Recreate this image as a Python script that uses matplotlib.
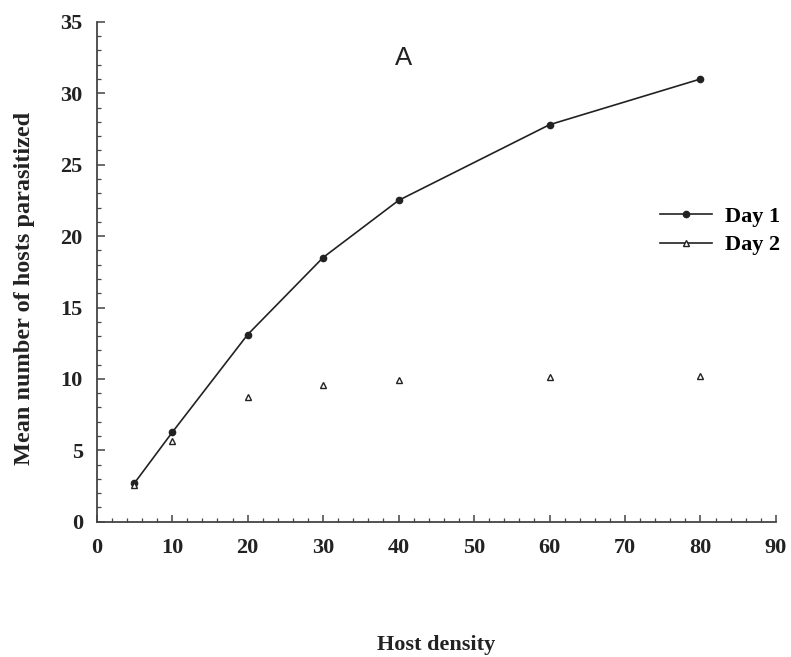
import matplotlib

matplotlib.use("Agg")
import matplotlib.pyplot as plt
from matplotlib.lines import Line2D
from matplotlib.ticker import MultipleLocator

# host density vs mean number parasitized
density = [5, 10, 20, 30, 40, 60, 80]
day1 = [2.7, 6.25, 13.1, 18.5, 22.5, 27.8, 31.0]
day2 = [2.55, 5.65, 8.75, 9.6, 9.9, 10.1, 10.2]
series_labels = ["Day 1", "Day 2"]

INK = "#222222"
plt.rcParams["font.family"] = ["Liberation Serif", "DejaVu Serif"]
plt.rcParams["font.weight"] = "bold"

fig = plt.figure(figsize=(7.91, 6.57), dpi=100)
ax = fig.add_axes([0.1222, 0.2059, 0.8588, 0.7608])

ax.plot(density, day1, color=INK, lw=1.2, marker="o", markersize=4.5,
        markerfacecolor=INK, markeredgecolor=INK, label=series_labels[0])
ax.plot(density, day2, color=INK, lw=0, marker="^", markersize=5,
        markerfacecolor="white", markeredgecolor=INK, markeredgewidth=1.0,
        label=series_labels[1])

ax.set_xlim(0, 90)
ax.set_ylim(0, 35)
ax.xaxis.set_major_locator(MultipleLocator(10))
ax.xaxis.set_minor_locator(MultipleLocator(2))
ax.yaxis.set_major_locator(MultipleLocator(5))
ax.yaxis.set_minor_locator(MultipleLocator(1))

for side in ("top", "right"):
    ax.spines[side].set_visible(False)
for side in ("left", "bottom"):
    ax.spines[side].set_color("#444444")
    ax.spines[side].set_linewidth(1.3)

ax.tick_params(which="major", direction="in", length=5.4, width=1.1,
               color="#444444", labelsize=16, labelcolor=INK)
ax.tick_params(which="minor", direction="in", length=3.2, width=0.9,
               color="#444444")
ax.tick_params(axis="x", which="major", pad=12)
ax.tick_params(axis="y", which="major", pad=10)

ax.set_xlabel("Host density", fontsize=16, fontweight="bold", color=INK,
              va="top")
ax.xaxis.set_label_coords(0.5, -0.2267)
ax.set_ylabel("Mean number of hosts parasitized", fontsize=17.5,
              fontweight="bold", color=INK)
ax.yaxis.set_label_coords(-0.0908, 0.4676)

ax.text(40.7, 32.45, "A", fontsize=18.5, fontweight="normal",
        family=["Liberation Sans", "DejaVu Sans"], color=INK,
        ha="center", va="center")

# the Day 2 handle in the original shows a line through the triangle
handles, labels = ax.get_legend_handles_labels()
handles[1] = Line2D([], [], color=INK, lw=1.2, marker="^", markersize=5,
                    markerfacecolor="white", markeredgecolor=INK)
fig.legend(handles, labels, loc="center left",
           bbox_to_anchor=(0.835, 0.6484), frameon=False, fontsize=16,
           handlelength=2.3, handletextpad=0.6, labelspacing=0.35,
           borderpad=0, borderaxespad=0)

fig.savefig("out.png", dpi=100)
